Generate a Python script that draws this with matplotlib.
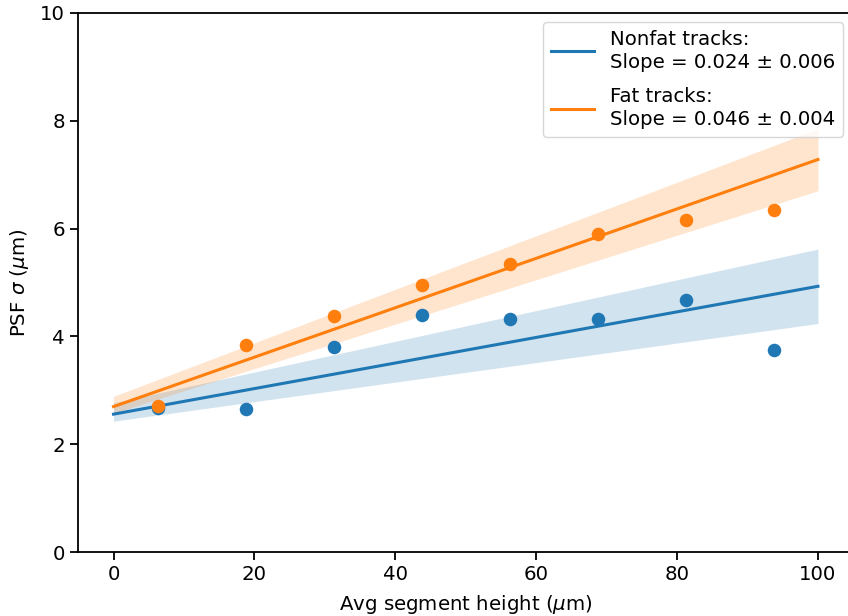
import numpy as np
import matplotlib
matplotlib.use("Agg")
import matplotlib.pyplot as plt

# segment heights (um)
heights = [6.25, 18.75, 31.25, 43.75, 56.25, 68.75, 81.25, 93.75]
nonfat_sigma = [2.68, 2.65, 3.80, 4.40, 4.33, 4.33, 4.68, 3.74]
fat_sigma = [2.71, 3.85, 4.37, 4.96, 5.35, 5.89, 6.16, 6.35]

# fit lines and bands, read at x = 0 and x = 100
fit_x = [0, 100]
nonfat_fit = [2.56, 4.93]
nonfat_upper = [2.77, 5.62]
nonfat_lower = [2.43, 4.24]
fat_fit = [2.70, 7.28]
fat_upper = [2.89, 7.85]
fat_lower = [2.58, 6.70]

nonfat_label = "Nonfat tracks:\nSlope = 0.024 ± 0.006"
fat_label = "Fat tracks:\nSlope = 0.046 ± 0.004"

blue = "#1f77b4"
orange = "#ff7f0e"
fs = 14.2

fig = plt.figure(figsize=(8.48, 6.16), dpi=100)
# axes run a little past the right edge of the figure, like the cropped original
ax = fig.add_axes([78.3 / 848, 1 - 552.3 / 616, (853.2 - 78.3) / 848, (552.3 - 12.7) / 616])

ax.fill_between(fit_x, nonfat_lower, nonfat_upper, color=blue, alpha=0.2, linewidth=0)
ax.fill_between(fit_x, fat_lower, fat_upper, color=orange, alpha=0.2, linewidth=0)
ax.plot(fit_x, nonfat_fit, color=blue, lw=2.2, label=nonfat_label)
ax.plot(fit_x, fat_fit, color=orange, lw=2.2, label=fat_label)
ax.scatter(heights, nonfat_sigma, color=blue, s=95, zorder=3, linewidths=0)
ax.scatter(heights, fat_sigma, color=orange, s=95, zorder=3, linewidths=0)

ax.set_xlim(-5, 105)
ax.set_ylim(0, 10)
ax.set_xticks([0, 20, 40, 60, 80, 100])
ax.set_yticks([0, 2, 4, 6, 8, 10])
ax.tick_params(labelsize=fs, length=6, width=1.3)
for s in ax.spines.values():
    s.set_linewidth(1.3)
ax.spines["right"].set_visible(False)

ax.set_xlabel(r"Avg segment height ($\mu$m)", fontsize=fs, labelpad=6)
ax.set_ylabel(r"PSF $\sigma$ ($\mu$m)", fontsize=fs, labelpad=7)

leg = ax.legend(loc="upper right", bbox_to_anchor=(843 / 848, 1 - 22 / 616),
                bbox_transform=fig.transFigure, borderaxespad=0, fontsize=fs,
                handlelength=2.2, labelspacing=0.8)
for t in leg.get_texts():
    t.set_linespacing(1.25)

fig.savefig("out.png", dpi=100)
